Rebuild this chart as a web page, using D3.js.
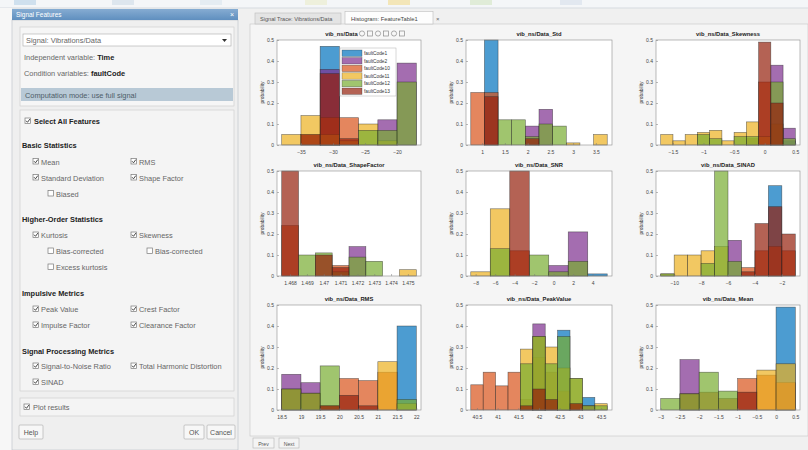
<!DOCTYPE html>
<html>
<head>
<meta charset="utf-8">
<script src="https://cdn.jsdelivr.net/npm/d3@7"></script>
<style>
  body { margin: 0; background: #f0f0f0; }
  svg { display: block; font-family: "Liberation Sans", Arial, sans-serif; }
</style>
</head>
<body>
<svg id="app" width="808" height="450"></svg>
<script>
// ---- condition groups shown in every histogram ----
const groupNames = ["faultCode1", "faultCode2", "faultCode10", "faultCode11", "faultCode12", "faultCode13"];
const groupColors = ["#0072BD", "#7E2F8E", "#D95319", "#EDB120", "#77AC30", "#94200C"];

// ---- feature histograms (probability per bin, one row per group) ----
const featureTitles = [
  "vib_ns/Data_THD", "vib_ns/Data_Std", "vib_ns/Data_Skewness",
  "vib_ns/Data_ShapeFactor", "vib_ns/Data_SNR", "vib_ns/Data_SINAD",
  "vib_ns/Data_RMS", "vib_ns/Data_PeakValue", "vib_ns/Data_Mean"
];
const probTicks = [0, 0.1, 0.2, 0.3, 0.4, 0.5];

const thdEdges = [-38, -35, -32, -29, -26, -23, -20, -17];
const thdTicks = [-35, -30, -25, -20];
const thdValues = [
  [0, 0, 0.47, 0, 0, 0, 0],
  [0, 0, 0.36, 0, 0, 0.12, 0.39],
  [0, 0.05, 0.13, 0.13, 0, 0, 0],
  [0.05, 0.14, 0.05, 0.02, 0.10, 0.02, 0],
  [0, 0, 0, 0, 0.07, 0.07, 0.30],
  [0, 0.05, 0.34, 0.03, 0, 0, 0]
];

const stdEdges = [0.75, 1.05, 1.35, 1.65, 1.95, 2.25, 2.55, 2.85, 3.15, 3.45, 3.75];
const stdTicks = [1, 1.5, 2, 2.5, 3, 3.5];
const stdValues = [
  [0, 0.5, 0, 0, 0, 0, 0, 0, 0, 0],
  [0, 0, 0, 0, 0.09, 0.17, 0, 0, 0, 0],
  [0.25, 0.25, 0, 0, 0, 0, 0, 0, 0, 0],
  [0, 0, 0, 0, 0, 0, 0, 0.01, 0, 0.05],
  [0, 0, 0.12, 0.12, 0.04, 0.10, 0.09, 0, 0, 0],
  [0, 0.23, 0, 0, 0.03, 0, 0, 0, 0, 0]
];

const skewEdges = [-1.7, -1.5, -1.3, -1.1, -0.9, -0.7, -0.5, -0.3, -0.1, 0.1, 0.3, 0.5];
const skewTicks = [-1.5, -1, -0.5, 0, 0.5];
const skewValues = [
  [0, 0, 0, 0, 0, 0, 0, 0, 0, 0, 0.02],
  [0, 0, 0, 0, 0, 0, 0, 0, 0, 0.38, 0.08],
  [0, 0, 0, 0, 0, 0, 0, 0.03, 0.30, 0.10, 0],
  [0.05, 0.02, 0.05, 0.06, 0.07, 0.02, 0.06, 0.11, 0.04, 0, 0],
  [0, 0, 0, 0.05, 0.03, 0, 0.04, 0.04, 0, 0.30, 0.03],
  [0, 0, 0, 0, 0, 0, 0, 0, 0.49, 0.20, 0]
];

const shapeEdges = [1.4675, 1.4685, 1.4695, 1.4705, 1.4715, 1.4725, 1.4735, 1.4745, 1.4755];
const shapeTicks = [1.468, 1.469, 1.470, 1.471, 1.472, 1.473, 1.474, 1.475];
const shapeValues = [
  [0, 0, 0, 0, 0, 0, 0, 0],
  [0, 0, 0, 0, 0.14, 0, 0, 0],
  [0.24, 0, 0, 0.05, 0, 0, 0, 0],
  [0, 0, 0, 0, 0, 0, 0, 0.03],
  [0, 0.10, 0.11, 0.02, 0.09, 0.07, 0, 0],
  [0.5, 0, 0.10, 0.04, 0, 0, 0, 0]
];

const snrEdges = [-8.5, -6.5, -4.5, -2.5, -0.5, 1.5, 3.5, 5.5];
const snrTicks = [-8, -6, -4, -2, 0, 2, 4];
const snrValues = [
  [0, 0, 0, 0, 0, 0, 0.01],
  [0, 0, 0, 0, 0.05, 0.21, 0],
  [0, 0, 0.12, 0, 0, 0, 0],
  [0.02, 0.32, 0, 0, 0, 0, 0],
  [0, 0.13, 0, 0.10, 0.02, 0.07, 0],
  [0, 0, 0.5, 0, 0, 0, 0]
];

const sinadEdges = [-11, -10, -9, -8, -7, -6, -5, -4, -3, -2, -1];
const sinadTicks = [-10, -8, -6, -4, -2];
const sinadValues = [
  [0, 0, 0, 0, 0, 0, 0, 0, 0.43, 0],
  [0, 0, 0, 0, 0, 0.17, 0, 0, 0, 0],
  [0, 0, 0, 0, 0, 0, 0.04, 0.12, 0.14, 0.12],
  [0.01, 0.10, 0.10, 0.12, 0.14, 0, 0, 0, 0, 0],
  [0.01, 0, 0, 0.06, 0.5, 0.07, 0, 0, 0, 0],
  [0, 0, 0, 0, 0, 0, 0.02, 0.25, 0.33, 0.20]
];

const rmsEdges = [18.5, 19, 19.5, 20, 20.5, 21, 21.5, 22];
const rmsTicks = [18.5, 19, 19.5, 20, 20.5, 21, 21.5, 22];
const rmsValues = [
  [0, 0, 0, 0, 0, 0, 0.40],
  [0.17, 0.13, 0, 0, 0, 0, 0],
  [0.10, 0.08, 0.02, 0.15, 0.14, 0.18, 0],
  [0, 0, 0, 0, 0, 0.23, 0.03],
  [0.10, 0.08, 0.21, 0, 0, 0, 0.05],
  [0, 0, 0.02, 0.07, 0.02, 0, 0]
];

const peakEdges = [40.35, 40.65, 40.95, 41.25, 41.55, 41.85, 42.15, 42.45, 42.75, 43.05, 43.35, 43.65];
const peakTicks = [40.5, 41, 41.5, 42, 42.5, 43, 43.5];
const peakValues = [
  [0, 0, 0, 0, 0, 0, 0, 0.38, 0, 0.06, 0],
  [0, 0, 0, 0, 0, 0.41, 0, 0, 0, 0, 0],
  [0.12, 0.18, 0.115, 0.18, 0.05, 0.25, 0.18, 0.09, 0.03, 0.02, 0],
  [0, 0, 0, 0, 0.29, 0.35, 0.30, 0.20, 0.15, 0, 0.03],
  [0, 0, 0, 0, 0.22, 0.35, 0.22, 0.35, 0.15, 0.02, 0.02],
  [0, 0, 0, 0, 0.02, 0.10, 0.05, 0, 0.03, 0, 0]
];

const meanEdges = [-3, -2.5, -2, -1.5, -1, -0.5, 0, 0.5];
const meanTicks = [-3, -2.5, -2, -1.5, -1, -0.5, 0, 0.5];
const meanValues = [
  [0, 0, 0, 0, 0, 0, 0.49],
  [0, 0.24, 0, 0, 0, 0, 0],
  [0, 0.077, 0.085, 0.055, 0.15, 0.166, 0.13],
  [0, 0, 0, 0, 0, 0.19, 0.22],
  [0.055, 0.077, 0.18, 0.09, 0, 0, 0],
  [0, 0, 0, 0, 0.085, 0, 0]
];

// ---- dialog contents ----
const basicStats = [["Mean", "RMS"], ["Standard Deviation", "Shape Factor"]];
const higherOrder = [["Kurtosis", "Skewness"]];
const impulsive = [["Peak Value", "Crest Factor"], ["Impulse Factor", "Clearance Factor"]];
const signalProc = [["Signal-to-Noise Ratio", "Total Harmonic Distortion"], ["SINAD", null]];

const svg = d3.select("#app");

// ================= window chrome =================
svg.append("rect").attr("x", 0).attr("y", 0).attr("width", 808).attr("height", 450).attr("fill", "#f0f0f0");
// strip of the toolstrip above
svg.append("rect").attr("x", 0).attr("y", 0).attr("width", 808).attr("height", 8).attr("fill", "#f4f6f8");
[[14, "#cfe0ee"], [112, "#dde6ee"], [200, "#e4ecf2"], [305, "#eef0dc"], [388, "#f3e6b8"], [470, "#e0ecd8"], [560, "#e2e8f0"]]
  .forEach(([x, c]) => svg.append("rect").attr("x", x).attr("y", 0).attr("width", 22).attr("height", 5).attr("fill", c));
svg.append("line").attr("x1", 0).attr("x2", 808).attr("y1", 8).attr("y2", 8).attr("stroke", "#d6dbe0");

// ================= Signal Features dialog =================
const dlg = svg.append("g");
dlg.append("rect").attr("x", 0).attr("y", 8).attr("width", 12).attr("height", 442).attr("fill", "#f7f7f7");
dlg.append("rect").attr("x", 12).attr("y", 20).attr("width", 226).attr("height", 430)
  .attr("fill", "#efefef").attr("stroke", "#b8bec6").attr("stroke-width", 0.6);

const grad = svg.append("defs").append("linearGradient").attr("id", "titleGrad")
  .attr("x1", 0).attr("x2", 0).attr("y1", 0).attr("y2", 1);
grad.append("stop").attr("offset", "0%").attr("stop-color", "#86acd2");
grad.append("stop").attr("offset", "100%").attr("stop-color", "#5f8fbf");
dlg.append("rect").attr("x", 12).attr("y", 9).attr("width", 226).attr("height", 11).attr("fill", "url(#titleGrad)");
dlg.append("text").attr("x", 16).attr("y", 17).attr("font-size", 6.5).attr("fill", "#fff").text("Signal Features");
dlg.append("text").attr("x", 230).attr("y", 17).attr("font-size", 7).attr("fill", "#fff").text("×");

function label(g, x, y, parts, size) {
  const t = g.append("text").attr("x", x).attr("y", y).attr("font-size", size || 7.4).attr("fill", "#666");
  parts.forEach(p => {
    const s = t.append("tspan").text(p.t);
    if (p.b) s.attr("font-weight", "bold").attr("fill", "#222");
  });
  return t;
}
function checkbox(g, x, y, checked) {
  g.append("rect").attr("x", x).attr("y", y - 6).attr("width", 5.5).attr("height", 5.5)
    .attr("fill", "#fff").attr("stroke", "#777").attr("stroke-width", 0.7);
  if (checked) {
    g.append("path").attr("d", `M${x + 1},${y - 3.3} l1.5,1.6 l2.3,-3.2`)
      .attr("fill", "none").attr("stroke", "#333").attr("stroke-width", 0.9);
  }
}

// signal selection box
dlg.append("rect").attr("x", 20).attr("y", 27).attr("width", 214).attr("height", 79)
  .attr("fill", "#f6f6f6").attr("stroke", "#c9c9c9").attr("stroke-width", 0.6);
dlg.append("rect").attr("x", 23).attr("y", 34).attr("width", 208).attr("height", 12)
  .attr("fill", "#fff").attr("stroke", "#aaa").attr("stroke-width", 0.6);
label(dlg, 26, 43, [{ t: "Signal: Vibrations/Data" }]);
dlg.append("path").attr("d", "M222,39 l5,0 l-2.5,3 z").attr("fill", "#333");
label(dlg, 24, 60, [{ t: "Independent variable: " }, { t: "Time", b: true }]);
label(dlg, 24, 76, [{ t: "Condition variables: " }, { t: "faultCode", b: true }]);
dlg.append("rect").attr("x", 21).attr("y", 88).attr("width", 212).attr("height", 13).attr("fill", "#b8c9d6");
label(dlg, 25, 97.5, [{ t: "Computation mode: use full signal" }]).attr("fill", "#4d5c68");

// feature list box
dlg.append("rect").attr("x", 20).attr("y", 110).attr("width", 214).attr("height", 281)
  .attr("fill", "#f4f4f4").attr("stroke", "#c9c9c9").attr("stroke-width", 0.6);
checkbox(dlg, 25, 124, true);
label(dlg, 34, 124, [{ t: "Select All Features", b: true }]);

function header(y, txt) { label(dlg, 22, y, [{ t: txt, b: true }]); }
function pairRows(rows, y0) {
  rows.forEach((r, i) => {
    const y = y0 + i * 16;
    checkbox(dlg, 33, y, true); label(dlg, 41, y, [{ t: r[0] }]);
    if (r[1]) { checkbox(dlg, 131, y, true); label(dlg, 139, y, [{ t: r[1] }]); }
  });
}
header(148, "Basic Statistics");
pairRows(basicStats, 164.5);
checkbox(dlg, 48, 196.5, false); label(dlg, 56, 196.5, [{ t: "Biased" }]);
header(222, "Higher-Order Statistics");
pairRows(higherOrder, 238);
checkbox(dlg, 48, 254, false); label(dlg, 56, 254, [{ t: "Bias-corrected" }]);
checkbox(dlg, 147, 254, false); label(dlg, 155, 254, [{ t: "Bias-corrected" }]);
checkbox(dlg, 48, 270, false); label(dlg, 56, 270, [{ t: "Excess kurtosis" }]);
header(296, "Impulsive Metrics");
pairRows(impulsive, 312);
header(354, "Signal Processing Metrics");
pairRows(signalProc, 369);

// plot results box
dlg.append("rect").attr("x", 20).attr("y", 398).attr("width", 214).attr("height", 18)
  .attr("fill", "#f4f4f4").attr("stroke", "#c9c9c9").attr("stroke-width", 0.6);
checkbox(dlg, 24, 410, true);
label(dlg, 33, 410, [{ t: "Plot results" }]);

// buttons
[[19, 24, "Help"], [184, 20, "OK"], [207, 28, "Cancel"]].forEach(([x, w, t]) => {
  dlg.append("rect").attr("x", x).attr("y", 425).attr("width", w).attr("height", 14).attr("rx", 1)
    .attr("fill", "#f7f7f7").attr("stroke", "#aaa").attr("stroke-width", 0.6);
  dlg.append("text").attr("x", x + w / 2).attr("y", 434.5).attr("text-anchor", "middle")
    .attr("font-size", 7).attr("fill", "#555").text(t);
});

// ================= document area with tabs =================
const doc = svg.append("g");
doc.append("rect").attr("x", 250).attr("y", 24).attr("width", 558).attr("height", 412)
  .attr("fill", "#f5f5f5").attr("stroke", "#c6c6c6").attr("stroke-width", 0.6);
doc.append("rect").attr("x", 255).attr("y", 13).attr("width", 86).attr("height", 11)
  .attr("fill", "#e4e4e4").attr("stroke", "#bdbdbd").attr("stroke-width", 0.6);
doc.append("text").attr("x", 260).attr("y", 21).attr("font-size", 5.6).attr("fill", "#555").text("Signal Trace: Vibrations/Data");
doc.append("rect").attr("x", 345).attr("y", 11.5).attr("width", 88).attr("height", 12.5)
  .attr("fill", "#fdfdfd").attr("stroke", "#bdbdbd").attr("stroke-width", 0.6);
doc.append("text").attr("x", 351).attr("y", 20.5).attr("font-size", 5.8).attr("fill", "#444").text("Histogram: FeatureTable1");
doc.append("text").attr("x", 436).attr("y", 21).attr("font-size", 6).attr("fill", "#666").text("×");

[[253, 21, "Prev"], [279, 20, "Next"]].forEach(([x, w, t]) => {
  doc.append("rect").attr("x", x).attr("y", 438).attr("width", w).attr("height", 10)
    .attr("fill", "#f4f4f4").attr("stroke", "#b5b5b5").attr("stroke-width", 0.6);
  doc.append("text").attr("x", x + w / 2).attr("y", 445.5).attr("text-anchor", "middle")
    .attr("font-size", 5.2).attr("fill", "#555").text(t);
});

// ================= histogram grid =================
const charts = [
  { edges: thdEdges, ticks: thdTicks, values: thdValues },
  { edges: stdEdges, ticks: stdTicks, values: stdValues },
  { edges: skewEdges, ticks: skewTicks, values: skewValues },
  { edges: shapeEdges, ticks: shapeTicks, values: shapeValues },
  { edges: snrEdges, ticks: snrTicks, values: snrValues },
  { edges: sinadEdges, ticks: sinadTicks, values: sinadValues },
  { edges: rmsEdges, ticks: rmsTicks, values: rmsValues },
  { edges: peakEdges, ticks: peakTicks, values: peakValues },
  { edges: meanEdges, ticks: meanTicks, values: meanValues }
];
const colLeft = [277, 466, 656];
const colRight = [421, 612, 800];
const rowTop = [40, 171, 305];
const rowBottom = [145, 276, 410];
const barAlpha = 0.7;

charts.forEach((c, idx) => {
  const col = idx % 3, row = Math.floor(idx / 3);
  const x0 = colLeft[col], x1 = colRight[col], y0 = rowTop[row], y1 = rowBottom[row];
  const e = c.edges, span = e[e.length - 1] - e[0];
  const x = d3.scaleLinear().domain([e[0] - span * 0.035, e[e.length - 1] + span * 0.035]).range([x0, x1]);
  const y = d3.scaleLinear().domain([0, 0.5]).range([y1, y0]);
  const g = svg.append("g");

  g.append("rect").attr("x", x0).attr("y", y0).attr("width", x1 - x0).attr("height", y1 - y0).attr("fill", "#fff");

  c.values.forEach((vals, s) => {
    const bins = vals.map((v, i) => ({ a: e[i], b: e[i + 1], v })).filter(d => d.v > 0);
    g.selectAll(null).data(bins).enter().append("rect")
      .attr("x", d => x(d.a)).attr("width", d => x(d.b) - x(d.a))
      .attr("y", d => y(d.v)).attr("height", d => y(0) - y(d.v))
      .attr("fill", groupColors[s]).attr("fill-opacity", barAlpha)
      .attr("stroke", "#2a2a2a").attr("stroke-opacity", 0.65).attr("stroke-width", 0.6);
  });

  const xa = g.append("g").attr("transform", `translate(0,${y1})`)
    .call(d3.axisBottom(x).tickValues(c.ticks).tickSize(-2).tickPadding(5).tickFormat(d3.format("")));
  const ya = g.append("g").attr("transform", `translate(${x0},0)`)
    .call(d3.axisLeft(y).tickValues(probTicks).tickSize(-2).tickPadding(3).tickFormat(d3.format("")));
  [xa, ya].forEach(a => {
    a.select(".domain").remove();
    a.selectAll("line").attr("stroke", "#777").attr("stroke-width", 0.5);
    a.selectAll("text").attr("font-size", 5).attr("fill", "#444").attr("font-family", "Liberation Sans, Arial, sans-serif");
  });

  g.append("rect").attr("x", x0).attr("y", y0).attr("width", x1 - x0).attr("height", y1 - y0)
    .attr("fill", "none").attr("stroke", "#8c8c8c").attr("stroke-width", 0.6);

  g.append("text").attr("x", (x0 + x1) / 2).attr("y", y0 - 4).attr("text-anchor", "middle")
    .attr("font-size", 5.8).attr("font-weight", "bold").attr("fill", "#222").text(featureTitles[idx]);

  g.append("text").attr("transform", `translate(${x0 - 13},${(y0 + y1) / 2}) rotate(-90)`)
    .attr("text-anchor", "middle").attr("font-size", 4.8).attr("fill", "#444").text("probability");

  if (idx === 0) {
    // axes toolbar over the first plot
    const tb = g.append("g");
    tb.append("rect").attr("x", 358).attr("y", 29).attr("width", 48).attr("height", 9).attr("fill", "#f7f7f7");
    [362, 370, 378, 386, 394, 402].forEach((cx, k) => {
      if (k % 2 === 0) tb.append("circle").attr("cx", cx).attr("cy", 33.5).attr("r", 2.6)
        .attr("fill", "none").attr("stroke", "#8a8a8a").attr("stroke-width", 0.7);
      else tb.append("rect").attr("x", cx - 2.5).attr("y", 31).attr("width", 5).attr("height", 5)
        .attr("fill", "none").attr("stroke", "#8a8a8a").attr("stroke-width", 0.7);
    });

    // legend
    const lg = g.append("g");
    lg.append("rect").attr("x", 340).attr("y", 48).attr("width", 56).attr("height", 48)
      .attr("fill", "#fff").attr("stroke", "#b0b0b0").attr("stroke-width", 0.5);
    groupNames.forEach((n, k) => {
      const ly = 50 + k * 7.6;
      lg.append("rect").attr("x", 342).attr("y", ly).attr("width", 20).attr("height", 6.4)
        .attr("fill", groupColors[k]).attr("fill-opacity", barAlpha)
        .attr("stroke", "#2a2a2a").attr("stroke-opacity", 0.6).attr("stroke-width", 0.5);
      lg.append("text").attr("x", 364).attr("y", ly + 5).attr("font-size", 4.8).attr("fill", "#333").text(n);
    });
  }
});
</script>
</body>
</html>
